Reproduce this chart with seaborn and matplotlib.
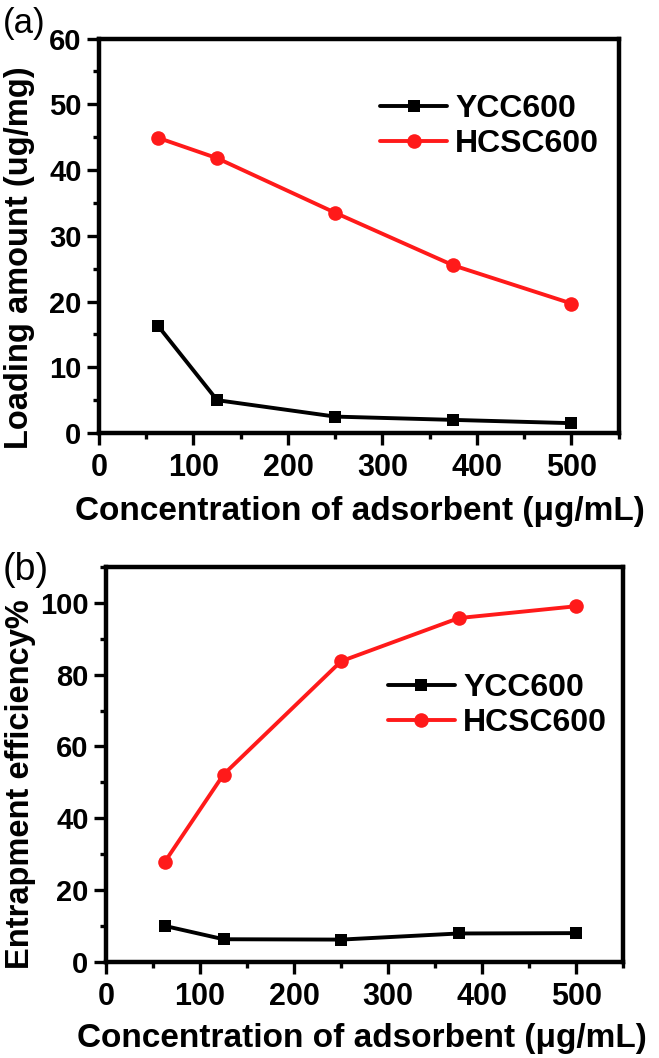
import matplotlib
matplotlib.use('Agg')
import matplotlib.pyplot as plt
from matplotlib.ticker import MultipleLocator
import seaborn as sns

# data
conc = [62.5, 125, 250, 375, 500]
ycc_loading = [16.3, 5.0, 2.5, 2.0, 1.5]
hcsc_loading = [44.9, 41.8, 33.5, 25.5, 19.7]
ycc_eff = [10.1, 6.4, 6.3, 8.0, 8.1]
hcsc_eff = [27.9, 52.2, 83.7, 95.7, 99.0]

sns.set_style('ticks')
plt.rcParams['font.family'] = ['Liberation Sans', 'DejaVu Sans']
plt.rcParams['font.weight'] = 'bold'
plt.rcParams['axes.labelweight'] = 'bold'
plt.rcParams['text.color'] = 'black'
plt.rcParams['axes.labelcolor'] = 'black'
plt.rcParams['xtick.color'] = 'black'
plt.rcParams['ytick.color'] = 'black'

fig = plt.figure(figsize=(6.59, 10.58), dpi=100)
ax1 = fig.add_axes([0.1502, 0.5907, 0.7886, 0.3729])
ax2 = fig.add_axes([0.1608, 0.0905, 0.7850, 0.3739])


def draw(ax, ycc, hcsc, ylim, ymaj, ymin, ylabel, ylab_xy, xlab_xy, leg_xy):
    sns.lineplot(x=conc, y=ycc, ax=ax, color='black', marker='s', markersize=9,
                 markeredgewidth=0, linewidth=2.8, label='YCC600')
    sns.lineplot(x=conc, y=hcsc, ax=ax, color='#ff1a1a', marker='o', markersize=10.5,
                 markeredgewidth=0, linewidth=2.8, label='HCSC600')
    ax.set_xlim(0, 550)
    ax.set_ylim(*ylim)
    ax.xaxis.set_major_locator(MultipleLocator(100))
    ax.xaxis.set_minor_locator(MultipleLocator(50))
    ax.yaxis.set_major_locator(MultipleLocator(ymaj))
    ax.yaxis.set_minor_locator(MultipleLocator(ymin))
    for s in ax.spines.values():
        s.set_linewidth(3.2)
        s.set_color('black')
    ax.tick_params(which='major', direction='out', length=8.5, width=2.4,
                   pad=4, color='black', labelcolor='black')
    ax.tick_params(which='minor', direction='out', length=4.5, width=2.4, color='black')
    ax.tick_params(axis='x', labelsize=22, pad=6)
    ax.tick_params(axis='y', labelsize=21)
    ax.set_xlabel('Concentration of adsorbent (\u03bcg/mL)', fontsize=24,
                  fontweight='bold', va='center', ha='center', color='black')
    ax.xaxis.set_label_coords(*xlab_xy)
    ax.set_ylabel(ylabel, fontsize=23.5, fontweight='bold', va='center', ha='center',
                  color='black')
    ax.yaxis.set_label_coords(*ylab_xy)
    ax.legend(loc='center left', bbox_to_anchor=leg_xy, frameon=False, fontsize=23,
              handlelength=2.1, handletextpad=0.25, labelspacing=0.15,
              borderpad=0, borderaxespad=0, numpoints=1, labelcolor='black')


draw(ax1, ycc_loading, hcsc_loading, (0, 60), 10, 5, 'Loading amount (ug/mg)',
     (-0.152, 0.444), (0.502, -0.200), (0.541, 0.777))
draw(ax2, ycc_eff, hcsc_eff, (0, 110), 20, 10, 'Entrapment efficiency%',
     (-0.166, 0.451), (0.495, -0.194), (0.545, 0.649))

fig.text(3 / 659, 1 - 23.5 / 1058, '(a)', fontsize=25, fontweight='normal',
         ha='left', va='center', color='black')
fig.text(3 / 659, 1 - 570 / 1058, '(b)', fontsize=27, fontweight='normal',
         ha='left', va='center', color='black')

fig.savefig('out.png', dpi=100)
